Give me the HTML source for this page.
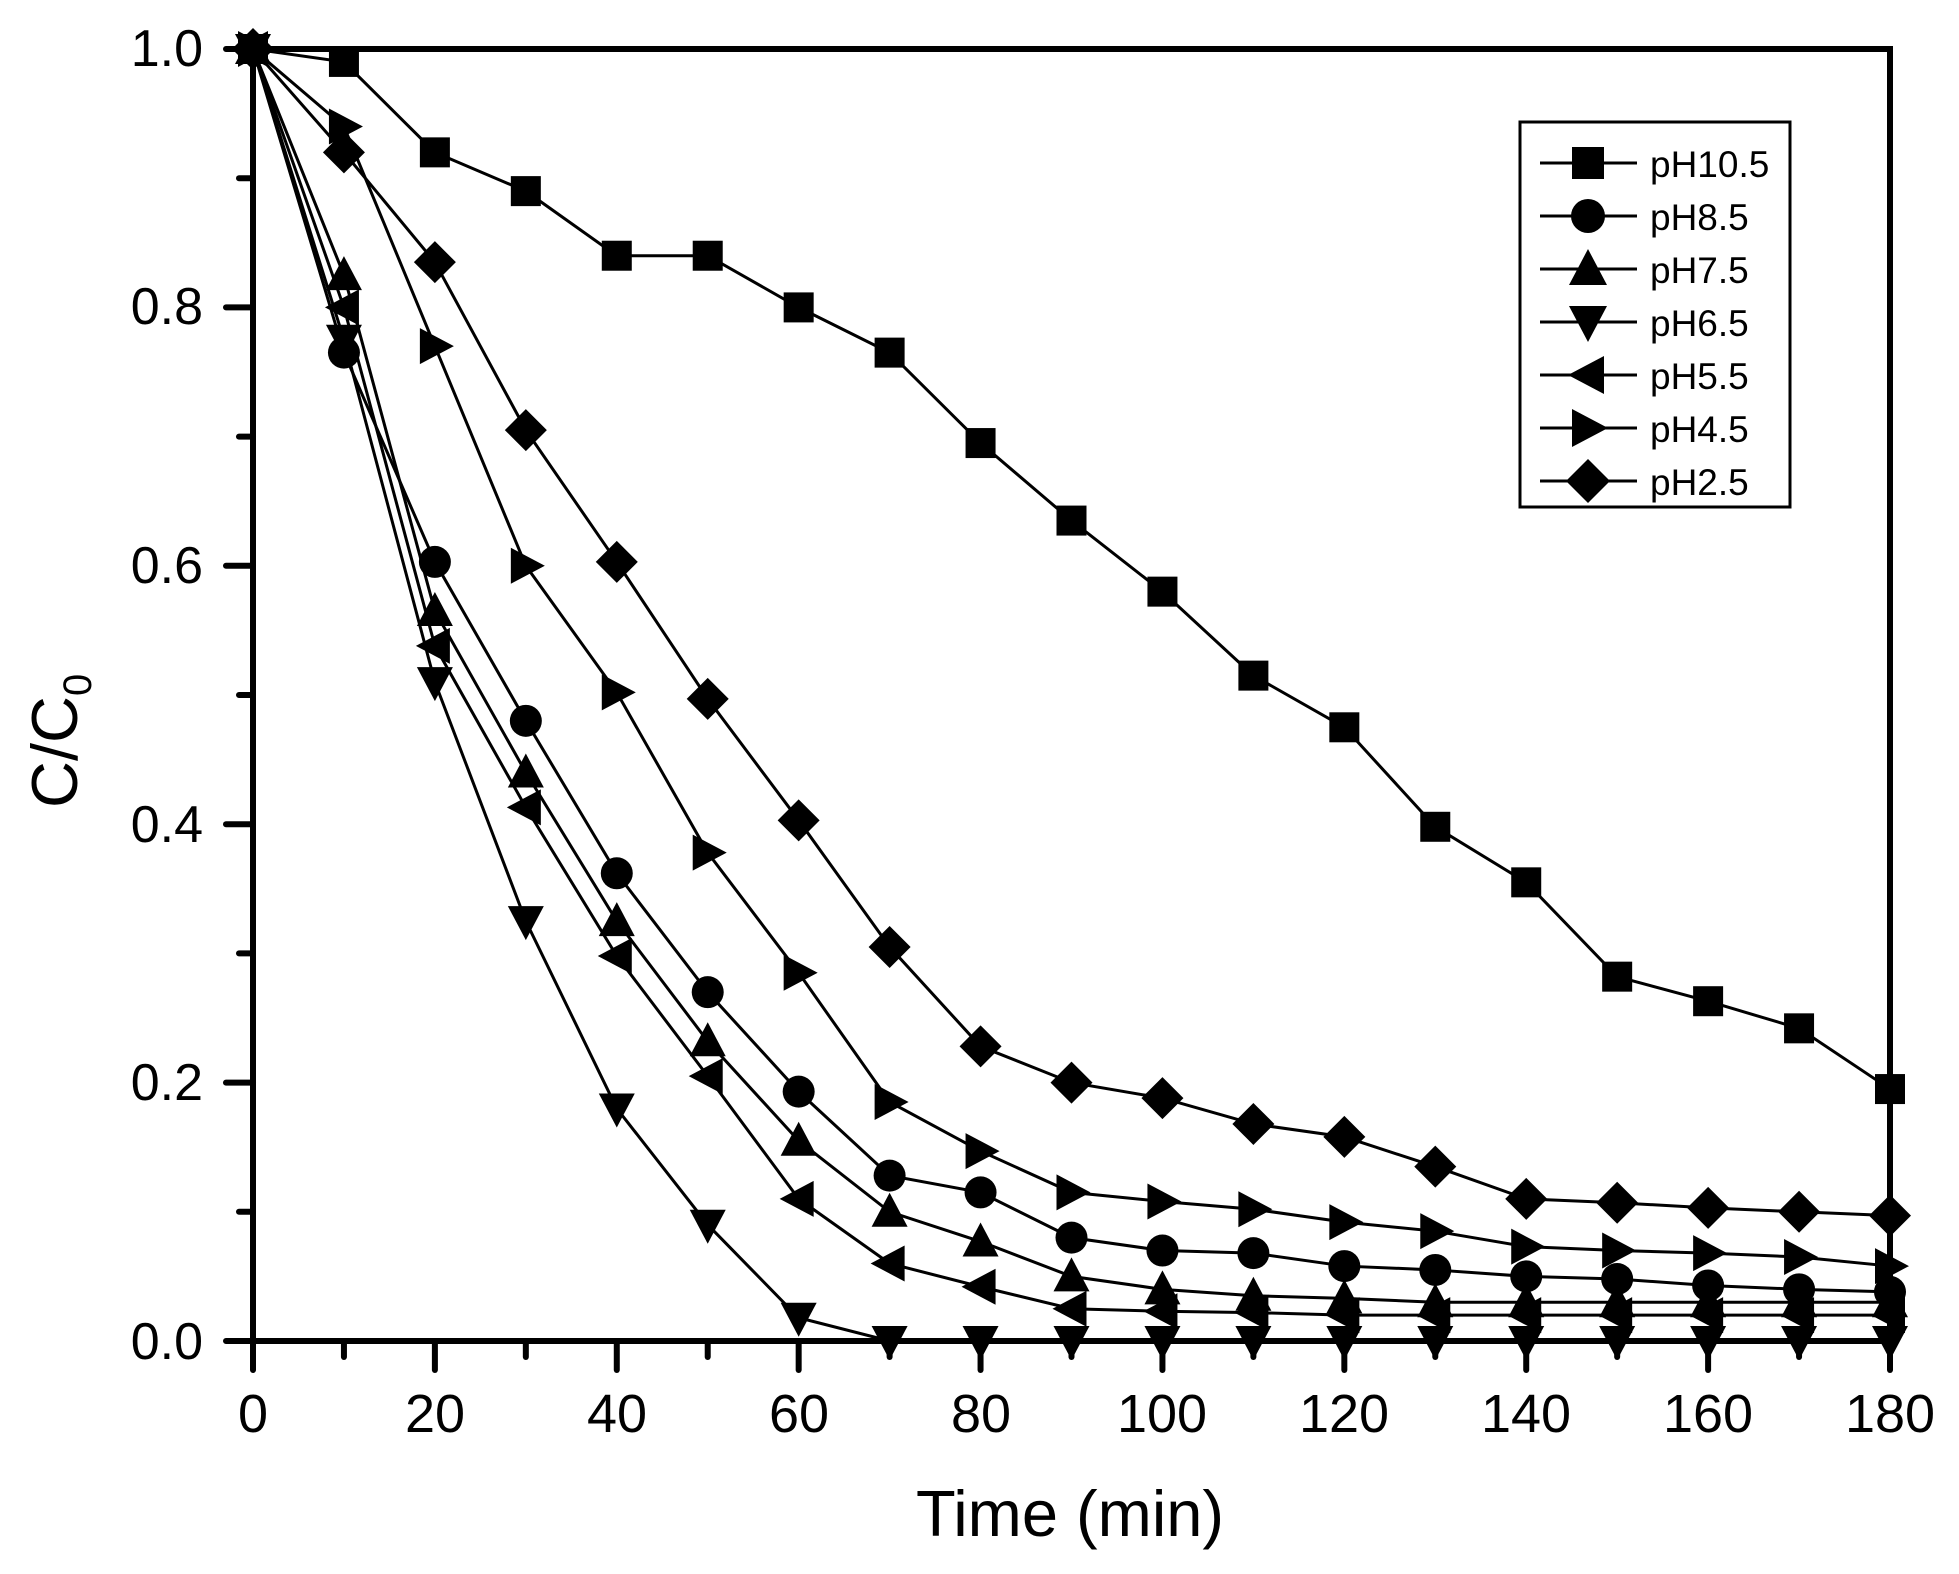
<!DOCTYPE html>
<html><head><meta charset="utf-8"><style>html,body{margin:0;padding:0;background:#fff}svg{display:block}text{font-family:"Liberation Sans",Arial,sans-serif;fill:#000}</style></head>
<body>
<svg id="s" width="1959" height="1574" viewBox="0 0 1959 1574" xmlns="http://www.w3.org/2000/svg">
<rect width="1959" height="1574" fill="#fff"/>
<g id="series"></g>
<g id="ticks" stroke="#000" stroke-width="6" stroke-linecap="round"></g>
<rect x="253" y="49" width="1637" height="1292" fill="none" stroke="#000" stroke-width="6"/>
<g font-size="52" text-anchor="end">
<text x="203" y="66">1.0</text>
<text x="203" y="324">0.8</text>
<text x="203" y="583">0.6</text>
<text x="203" y="842">0.4</text>
<text x="203" y="1100">0.2</text>
<text x="203" y="1359">0.0</text>
</g>
<g font-size="54" text-anchor="middle">
<text x="253" y="1432">0</text>
<text x="435" y="1432">20</text>
<text x="617" y="1432">40</text>
<text x="799" y="1432">60</text>
<text x="981" y="1432">80</text>
<text x="1162" y="1432">100</text>
<text x="1344" y="1432">120</text>
<text x="1526" y="1432">140</text>
<text x="1708" y="1432">160</text>
<text x="1890" y="1432">180</text>
</g>
<text x="1070" y="1536" font-size="65" text-anchor="middle">Time (min)</text>
<text transform="translate(77,808) rotate(-90)" font-size="65">C/C<tspan font-size="40" dy="14">0</tspan></text>
<rect x="1520" y="122" width="270" height="385" fill="#fff" stroke="#000" stroke-width="3"/>
<g id="legend"></g>
<g font-size="37">
<text x="1650" y="177">pH10.5</text>
<text x="1650" y="230">pH8.5</text>
<text x="1650" y="283">pH7.5</text>
<text x="1650" y="336">pH6.5</text>
<text x="1650" y="389">pH5.5</text>
<text x="1650" y="442">pH4.5</text>
<text x="1650" y="495">pH2.5</text>
</g>
<script>
var NS="http://www.w3.org/2000/svg";
function X(t){return 253+t*1637/180}
function Y(v){return 1341-v*1292}
function el(p,n,a){var e=document.createElementNS(NS,n);for(var k in a)e.setAttribute(k,a[k]);p.appendChild(e);return e}
var tk=document.getElementById('ticks');
for(var i=0;i<=10;i++){var y=Y(i/10);el(tk,'line',{x1:253,y1:y,x2:253-(i%2?14:27),y2:y})}
for(var i=0;i<=18;i++){var x=X(i*10);el(tk,'line',{x1:x,y1:1341,x2:x,y2:1341+(i%2?16:29)})}
function marker(g,type,cx,cy,s){
 var r=s/2;
 if(type=='sq')el(g,'rect',{x:cx-r,y:cy-r,width:s,height:s});
 else if(type=='ci')el(g,'circle',{cx:cx,cy:cy,r:r+1});
 else{var p;
  if(type=='up')p=[[cx,cy-r-4],[cx+r+3,cy+r],[cx-r-3,cy+r]];
  if(type=='dn')p=[[cx,cy+r+4],[cx+r+3,cy-r],[cx-r-3,cy-r]];
  if(type=='lt')p=[[cx-r-4,cy],[cx+r,cy-r-3],[cx+r,cy+r+3]];
  if(type=='rt')p=[[cx+r+4,cy],[cx-r,cy-r-3],[cx-r,cy+r+3]];
  if(type=='di')p=[[cx,cy-r-6],[cx+r+6,cy],[cx,cy+r+6],[cx-r-6,cy]];
  el(g,'polygon',{points:p.map(function(q){return q.join(',')}).join(' ')});}
}
var D=[
['sq',[1,0.99,0.92,0.89,0.84,0.84,0.80,0.765,0.695,0.635,0.58,0.515,0.475,0.398,0.355,0.282,0.263,0.242,0.195]],
['ci',[1,0.765,0.603,0.48,0.362,0.27,0.193,0.128,0.115,0.08,0.07,0.068,0.058,0.055,0.05,0.048,0.043,0.04,0.038]],
['up',[1,0.825,0.565,0.44,0.325,0.232,0.155,0.1,0.077,0.05,0.04,0.035,0.033,0.03,0.03,0.03,0.03,0.03,0.03]],
['dn',[1,0.775,0.51,0.325,0.18,0.09,0.018,0,0,0,0,0,0,0,0,0,0,0,0]],
['lt',[1,0.80,0.538,0.413,0.298,0.205,0.11,0.06,0.042,0.025,0.023,0.022,0.02,0.02,0.02,0.02,0.02,0.02,0.02]],
['rt',[1,0.94,0.77,0.60,0.502,0.378,0.285,0.185,0.147,0.115,0.108,0.102,0.092,0.085,0.073,0.07,0.068,0.065,0.058]],
['di',[1,0.92,0.835,0.705,0.603,0.497,0.403,0.305,0.228,0.2,0.188,0.168,0.158,0.135,0.11,0.107,0.103,0.1,0.097]]];
var sg=document.getElementById('series');
D.forEach(function(d){
 var pts=d[1].map(function(v,i){return X(i*10)+','+Y(v)}).join(' ');
 el(sg,'polyline',{points:pts,fill:'none',stroke:'#000','stroke-width':3});
 var g=el(sg,'g',{fill:'#000'});
 d[1].forEach(function(v,i){marker(g,d[0],X(i*10),Y(v),30)});
});
var lg=document.getElementById('legend');
D.forEach(function(d,i){var y=163+i*53;
 el(lg,'line',{x1:1540,y1:y,x2:1637,y2:y,stroke:'#000','stroke-width':3});
 var g=el(lg,'g',{fill:'#000'});marker(g,d[0],1588,y,32);});
</script>
</svg>
</body></html>
